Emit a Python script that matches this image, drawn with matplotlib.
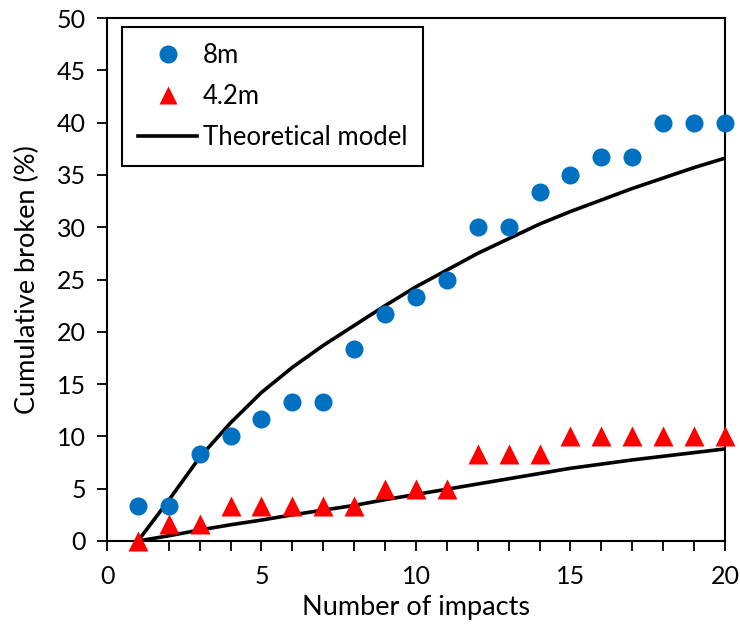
import matplotlib
matplotlib.use("Agg")
import matplotlib.pyplot as plt
from matplotlib.ticker import MultipleLocator

plt.rcParams['font.family'] = ['Lato', 'DejaVu Sans']

impacts = list(range(1, 21))
broken_8m = [3.33, 3.33, 8.33, 10.0, 11.67, 13.33, 13.33, 18.33, 21.67, 23.33,
             25.0, 30.0, 30.0, 33.33, 35.0, 36.67, 36.67, 40.0, 40.0, 40.0]
broken_42m = [0.0, 1.67, 1.67, 3.33, 3.33, 3.33, 3.33, 3.33, 5.0, 5.0,
              5.0, 8.33, 8.33, 8.33, 10.0, 10.0, 10.0, 10.0, 10.0, 10.0]
model_8m = [0.0, 3.9, 8.0, 11.3, 14.2, 16.6, 18.7, 20.6, 22.5, 24.3,
            25.9, 27.5, 28.9, 30.3, 31.5, 32.6, 33.7, 34.7, 35.7, 36.6]
model_42m = [0.0, 0.5, 1.05, 1.55, 2.0, 2.5, 2.95, 3.4, 3.95, 4.45,
             4.95, 5.45, 5.95, 6.45, 6.95, 7.35, 7.75, 8.1, 8.45, 8.8]

fig = plt.figure(figsize=(7.4, 6.26), dpi=100)
ax = fig.add_axes([0.1446, 0.1358, 0.835, 0.8354])

ax.plot(impacts, model_8m, color='black', lw=2.6, zorder=2, label='Theoretical model',
        solid_joinstyle='round')
ax.plot(impacts, model_42m, color='black', lw=2.6, zorder=2, solid_joinstyle='round')
ax.plot(impacts, broken_8m, 'o', color='#0070C0', ms=13, mec='none', zorder=3,
        label='8m', clip_on=False)
ax.plot(impacts, broken_42m, '^', color='#FF0000', ms=14, mec='none', zorder=3,
        label='4.2m', clip_on=False)

ax.set_xlim(0, 20)
ax.set_ylim(0, 50)
ax.xaxis.set_major_locator(MultipleLocator(5))
ax.xaxis.set_minor_locator(MultipleLocator(1))
ax.yaxis.set_major_locator(MultipleLocator(5))
ax.tick_params(axis='both', which='both', direction='out', length=7, width=1.3,
               labelsize=18, color='black')
ax.tick_params(axis='x', pad=10)
ax.tick_params(axis='y', pad=8)
for s in ax.spines.values():
    s.set_linewidth(1.5)
    s.set_color('black')

ax.set_xlabel('Number of impacts', fontsize=19.5, labelpad=5)
ax.set_ylabel('Cumulative broken (%)', fontsize=19.5, labelpad=12)

handles, labels = ax.get_legend_handles_labels()
order = [1, 2, 0]
leg = ax.legend([handles[i] for i in order], [labels[i] for i in order],
                loc='upper left', bbox_to_anchor=(0.025, 0.982), fontsize=18.5,
                frameon=True, fancybox=False, edgecolor='black', framealpha=1,
                handlelength=2.3, handletextpad=0.2, labelspacing=0.62,
                borderpad=0.62, borderaxespad=0)
leg.get_frame().set_linewidth(1.5)
for h in leg.legend_handles[:2]:
    h.set_markersize(13)

fig.savefig('out.png', dpi=100)
